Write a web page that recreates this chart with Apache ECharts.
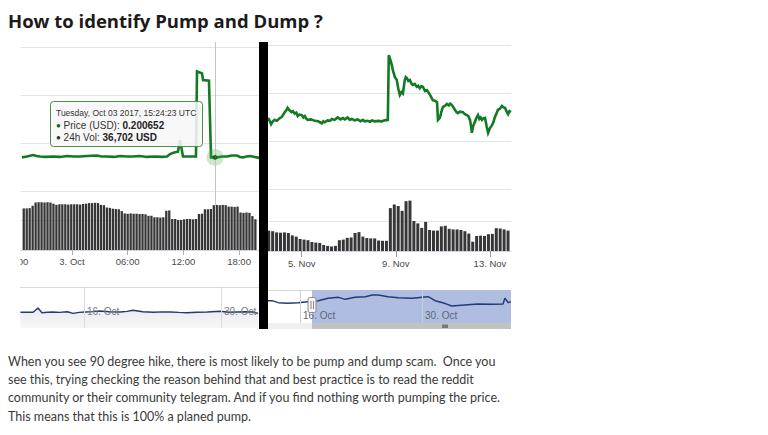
<!DOCTYPE html>
<html><head><meta charset="utf-8">
<script src="https://cdn.jsdelivr.net/npm/echarts@6/dist/echarts.min.js"></script>
<style>html,body{margin:0;padding:0;background:#fff}#c{width:768px;height:435px}</style>
</head><body><div id="c"></div>
<script>
// ---------- DATA ----------
// Left panel: hours from 3 Oct 2017 00:00 UTC; price in relative units (grid steps)
const leftPriceHours  = [-5.39,-4.85,-4.2,-3.8,-3.45,-2.8,-2.05,-1.3,-0.54,0.2,0.86,1.6,2.69,3.2,3.77,4.5,5.17,5.9,6.57,7.3,8.08,9.0,9.7,10.24,
  10.56,11.0,11.42,11.64,11.96,12.6,13.36,13.47,14.01,14.12,14.76,14.98,15.41,15.63,16.2,16.7,17.2,17.78,18.1,18.43,18.8,19.18,19.7,20.15];
const leftPriceValues = [0.70,0.72,0.75,0.73,0.72,0.71,0.72,0.71,0.73,0.72,0.72,0.73,0.74,0.72,0.72,0.71,0.73,0.72,0.72,0.73,0.71,0.72,0.71,0.72,
  0.77,0.80,0.82,1.06,0.72,0.72,0.72,2.49,2.45,2.31,2.30,0.70,0.70,0.70,0.72,0.72,0.74,0.74,0.71,0.70,0.72,0.73,0.71,0.69];
const leftVolStartHour = -5.2;
const leftVolStepHour = 0.32;
const leftVolumes = [1.41,1.41,1.42,1.50,1.61,1.62,1.62,1.61,1.62,1.61,1.57,1.53,1.55,1.55,1.55,1.54,1.55,1.55,1.55,1.54,
  1.56,1.57,1.59,1.59,1.60,1.59,1.53,1.52,1.44,1.43,1.40,1.39,1.38,1.32,1.24,1.23,1.24,1.23,1.23,1.22,
  1.22,1.21,1.16,1.16,1.11,1.11,1.10,1.11,1.33,1.34,1.05,1.05,1.02,1.02,1.04,1.05,1.05,1.04,1.05,1.22,
  1.23,1.38,1.38,1.39,1.52,1.53,1.52,1.53,1.52,1.47,1.47,1.46,1.47,1.27,1.26,1.27,1.26,1.15,1.04];
const leftTickHours = [-6, 0, 6, 12, 18];

// Right panel: day of November 2017
const rightPriceDays = [3.57,3.64,3.70,3.76,3.85,3.95,4.05,4.15,4.22,4.28,4.36,4.40,4.48,4.57,4.63,4.70,4.77,4.83,4.90,5.0,
  5.07,5.13,5.20,5.26,5.40,5.55,5.70,5.85,5.92,5.98,6.10,6.20,6.28,6.40,6.53,6.65,6.75,6.83,6.95,7.05,
  7.13,7.25,7.38,7.50,7.60,7.68,7.80,7.90,7.98,8.10,8.25,8.40,8.53,8.66,
  8.70,8.76,8.83,8.87,8.92,8.96,9.04,9.10,9.17,9.24,9.30,9.38,9.42,9.47,9.53,9.60,9.66,9.72,9.80,9.89,9.95,
  10.02,10.08,10.15,10.24,10.32,10.40,10.45,10.52,10.57,10.66,10.75,10.79,10.87,10.94,11.0,11.08,11.17,11.25,11.31,11.38,
  11.45,11.51,11.58,11.64,11.72,11.85,11.93,12.02,12.08,12.15,12.20,12.23,12.28,12.36,12.42,12.49,12.55,12.60,12.66,12.72,
  12.79,12.86,12.92,13.00,13.09,13.15,13.21,13.28,13.34,13.42,13.51,13.58,13.64,13.70,13.77,13.83,13.89];
const rightPriceValues = [1.48,1.42,1.35,1.40,1.44,1.42,1.47,1.50,1.55,1.60,1.65,1.69,1.64,1.60,1.62,1.57,1.59,1.52,1.55,1.54,
  1.49,1.52,1.46,1.44,1.45,1.42,1.41,1.37,1.41,1.39,1.43,1.42,1.46,1.44,1.49,1.45,1.48,1.45,1.49,1.44,
  1.46,1.43,1.45,1.41,1.44,1.41,1.42,1.40,1.43,1.41,1.42,1.41,1.43,1.44,
  2.79,2.70,2.58,2.48,2.40,2.33,2.27,2.10,1.96,2.02,1.99,2.27,2.33,2.31,2.25,2.27,2.20,2.17,2.19,2.13,2.15,
  2.10,2.14,2.13,2.04,2.06,2.00,1.96,1.90,1.85,1.84,1.81,1.44,1.48,1.62,1.71,1.73,1.77,1.74,1.78,1.75,
  1.70,1.65,1.60,1.58,1.61,1.60,1.56,1.54,1.52,1.44,1.30,1.17,1.30,1.40,1.48,1.54,1.46,1.49,1.44,1.47,
  1.48,1.30,1.17,1.27,1.33,1.40,1.50,1.58,1.65,1.67,1.73,1.70,1.69,1.62,1.56,1.62,1.60];
const rightVolStartDay = 3.6;
const rightVolStepDay = 1 / 6;
const rightVolumes = [0.68,0.66,0.62,0.61,0.62,0.60,0.52,0.48,0.40,0.38,0.36,0.30,0.28,0.27,0.20,0.17,0.15,0.17,0.36,0.38,
  0.44,0.45,0.60,0.63,0.48,0.43,0.42,0.42,0.35,0.34,0.34,1.43,1.55,1.50,1.34,1.66,1.68,1.00,0.92,0.77,
  0.97,0.70,0.68,0.68,0.82,0.84,0.74,0.72,0.72,0.70,0.66,0.58,0.31,0.50,0.51,0.50,0.56,0.57,0.76,0.75,
  0.72,0.68];
const rightTickDays = [5, 9, 13];

// Navigators: day of October 2017 (32 = 1 Nov)
const leftNavDays   = [9.5,10.2,10.8,11.3,11.7,12.3,12.8,13.5,14.3,14.9,15.5,16.1,16.9,17.6,18.6,19.7,20.4,21.0,22.0,23.1,24.0,24.8,25.7,26.5,27.5,28.6,29.9,30.8,31.6,32.5,33.3,33.8];
const leftNavValues = [1.53,1.55,1.53,1.95,1.49,1.54,1.56,1.52,1.59,1.43,1.52,1.56,1.60,1.66,1.58,1.56,1.62,1.73,1.58,1.53,1.57,1.56,1.52,1.49,1.53,1.56,1.63,1.54,1.56,1.58,1.56,1.43];
const rightNavDays   = [12.33,12.8,13.5,14.6,15.8,16.9,18.1,19.2,20.4,21.2,22.3,23.5,24.3,25.0,26.1,27.3,28.9,30.0,30.7,31.5,32.6,33.4,34.9,36.4,38.0,39.3,39.5,39.9,40.2];
const rightNavValues = [2.23,2.23,2.03,1.97,2.03,2.13,2.23,2.47,2.57,2.37,2.57,2.63,2.80,2.80,2.63,2.53,2.47,2.57,2.63,2.23,1.97,1.70,1.80,1.90,1.87,1.90,2.47,2.03,2.13];
const navTickDays = [16, 30];
const navSelectionStartDay = 17.38;

// Hovered point (tooltip)
const hoverHour = 15.41;
const hoverValue = 0.70;
const tooltipDate = 'Tuesday, Oct 03 2017, 15:24:23 UTC';
const tooltipPrice = '0.200652';
const tooltipVol = '36,702 USD';

const titleText = 'How to identify Pump and Dump ?';
const paragraphLines = [
  'When you see 90 degree hike, there is most likely to be pump and dump scam.  Once you',
  'see this, trying checking the reason behind that and best practice is to read the reddit',
  'community or their community telegram. And if you find nothing worth pumping the price.',
  'This means that this is 100% a planed pump.'
];

// ---------- CHART ----------
const GREEN = '#127a22';
const GRID_LINE = '#e4e4e4';
const BAR = '#363636';
const AXIS_FONT = 'Liberation Sans, Arial, sans-serif';

function pairs(xs, ys) { return xs.map((x, i) => [x, ys[i]]); }
function stepped(start, step, ys) { return ys.map((y, i) => [start + i * step, y]); }
function pad(n) { return (n < 10 ? '0' : '') + n; }
function hourLabel(h) {
  const hh = ((h % 24) + 24) % 24;
  if (hh === 0) return (3 + Math.floor(h / 24)) + '. Oct';
  return pad(hh) + ':00';
}
function dayLabel(d) { return d > 31 ? (d - 31) + '. Nov' : d + '. Oct'; }

const chart = echarts.init(document.getElementById('c'), null, { renderer: 'svg' });

function gridBox(left, top, width, height) {
  return { left, top, width, height, containLabel: false, outerBoundsMode: 'none', show: false };
}

const hiddenY = (min, max, interval, showMin, showMax, color) => ({
  type: 'value', min, max, interval,
  axisLine: { show: false }, axisTick: { show: false }, axisLabel: { show: false },
  splitLine: { show: true, showMinLine: showMin, showMaxLine: showMax, lineStyle: { color: color || GRID_LINE, width: 1 } }
});
const hiddenX = (min, max) => ({
  type: 'value', min, max, show: false, splitLine: { show: false }
});

const leftMinH = -6, leftMaxH = 20.15;
const rightMinD = 3.568, rightMaxD = 13.893;

const option = {
  animation: false,
  backgroundColor: '#ffffff',
  grid: [
    gridBox(16.32, 42, 242.68, 149),   // 0 left price
    gridBox(16.32, 191, 242.68, 59),   // 1 left volume
    gridBox(268, 42, 243, 147),        // 2 right price
    gridBox(268, 191, 243, 60),        // 3 right volume
    gridBox(20, 287, 239, 41),         // 4 left navigator
    gridBox(268, 290, 243, 33)         // 5 right navigator
  ],
  xAxis: [
    Object.assign(hiddenX(leftMinH, leftMaxH), { gridIndex: 0 }),
    {
      gridIndex: 1, type: 'value', min: leftMinH, max: leftMaxH,
      axisLine: { show: true, lineStyle: { color: '#ccd6eb' } },
      axisTick: { show: true, length: 5, lineStyle: { color: '#b0b0b0' }, customValues: leftTickHours },
      axisLabel: { show: true, customValues: leftTickHours, formatter: hourLabel, color: '#4a4a4a', fontSize: 9.5, fontFamily: AXIS_FONT, margin: 6 },
      splitLine: { show: false }
    },
    Object.assign(hiddenX(rightMinD, rightMaxD), { gridIndex: 2 }),
    {
      gridIndex: 3, type: 'value', min: rightMinD, max: rightMaxD,
      axisLine: { show: true, lineStyle: { color: '#ccd6eb' } },
      axisTick: { show: true, length: 6, lineStyle: { color: '#999' }, customValues: rightTickDays },
      axisLabel: { show: true, customValues: rightTickDays, formatter: v => v + '. Nov', color: '#4a4a4a', fontSize: 9.5, fontFamily: AXIS_FONT, margin: 7 },
      splitLine: { show: false }
    },
    {
      gridIndex: 4, type: 'value', min: 9.46, max: 33.883, z: 10,
      axisLine: { show: false },
      axisTick: { show: false, customValues: navTickDays },
      axisLabel: { show: true, inside: true, customValues: navTickDays, formatter: dayLabel, align: 'left', padding: [0, 0, 0, 3], color: '#7a7a7a', fontSize: 10, fontFamily: AXIS_FONT, margin: 12 },
      splitLine: { show: true, lineStyle: { color: '#dcdcdc' } }
    },
    {
      gridIndex: 5, type: 'value', min: 12.328, max: 40.21, z: 10,
      axisLine: { show: false },
      axisTick: { show: false, customValues: navTickDays },
      axisLabel: { show: true, inside: true, customValues: navTickDays, formatter: dayLabel, align: 'left', padding: [0, 0, 0, 3], color: '#5f6578', fontSize: 10, fontFamily: AXIS_FONT, margin: 3 },
      splitLine: { show: true, lineStyle: { color: '#c9cfdd' } }
    }
  ],
  yAxis: [
    Object.assign(hiddenY(0, 3.104, 1, true, false), { gridIndex: 0 }),
    Object.assign(hiddenY(0, 2, 1, false, false), { gridIndex: 1 }),
    Object.assign(hiddenY(0, 3.0625, 1, true, false), { gridIndex: 2 }),
    Object.assign(hiddenY(0, 2, 1, false, false), { gridIndex: 3 }),
    Object.assign(hiddenY(0, 4, 4, false, true, '#d8d8d8'), { gridIndex: 4 }),
    Object.assign(hiddenY(0, 3.3, 3.3, false, true, '#d8d8d8'), { gridIndex: 5 })
  ],
  series: [
    { // crosshair in volume grid (behind bars)
      type: 'line', xAxisIndex: 1, yAxisIndex: 1, data: [], z: 1, silent: true,
      markLine: { symbol: 'none', silent: true, label: { show: false }, lineStyle: { color: '#c4c4c4', width: 1, type: 'solid' }, data: [{ xAxis: hoverHour }] }
    },
    {
      name: 'Left volume', type: 'bar', xAxisIndex: 1, yAxisIndex: 1, z: 2,
      data: stepped(leftVolStartHour, leftVolStepHour, leftVolumes),
      barWidth: 2.3, itemStyle: { color: BAR }
    },
    {
      name: 'Left price', type: 'line', xAxisIndex: 0, yAxisIndex: 0, z: 3, smooth: false,
      data: pairs(leftPriceHours, leftPriceValues), showSymbol: false,
      lineStyle: { color: GREEN, width: 2.6, join: 'miter' },
      markLine: { symbol: 'none', silent: true, label: { show: false }, lineStyle: { color: '#c4c4c4', width: 1, type: 'solid' }, data: [{ xAxis: hoverHour }] }
    },
    {
      name: 'Hover halo', type: 'scatter', xAxisIndex: 0, yAxisIndex: 0, z: 4,
      data: [[hoverHour, hoverValue]], symbolSize: 17, itemStyle: { color: 'rgba(80,170,80,0.35)' }
    },
    {
      name: 'Hover point', type: 'scatter', xAxisIndex: 0, yAxisIndex: 0, z: 5,
      data: [[hoverHour, hoverValue]], symbolSize: 5, itemStyle: { color: '#0c5a18' }
    },
    {
      name: 'Right volume', type: 'bar', xAxisIndex: 3, yAxisIndex: 3, z: 2,
      data: stepped(rightVolStartDay, rightVolStepDay, rightVolumes),
      barWidth: 3, itemStyle: { color: BAR }
    },
    {
      name: 'Right price', type: 'line', xAxisIndex: 2, yAxisIndex: 2, z: 3, smooth: false,
      data: pairs(rightPriceDays, rightPriceValues), showSymbol: false,
      lineStyle: { color: GREEN, width: 2.6, join: 'miter' }
    },
    {
      name: 'Left navigator', type: 'line', xAxisIndex: 4, yAxisIndex: 4, z: 3, smooth: false,
      data: pairs(leftNavDays, leftNavValues), showSymbol: false,
      lineStyle: { color: '#223a78', width: 1.4 },
      areaStyle: { color: new echarts.graphic.LinearGradient(0, 0, 0, 1, [{ offset: 0, color: '#e2e3e8' }, { offset: 1, color: '#f3f3f3' }]) }
    },
    { // selected range mask
      type: 'line', xAxisIndex: 5, yAxisIndex: 5, data: [], z: 1, silent: true,
      markArea: { silent: true, itemStyle: { color: '#aebde0' }, data: [[{ xAxis: navSelectionStartDay }, { xAxis: 'max' }]] }
    },
    {
      name: 'Right navigator', type: 'line', xAxisIndex: 5, yAxisIndex: 5, z: 3, smooth: false,
      data: pairs(rightNavDays, rightNavValues), showSymbol: false,
      lineStyle: { color: '#223a78', width: 1.4 }
    }
  ]
};
chart.setOption(option);

// ---------- decorations (page text, crop bar, tooltip, navigator handle) ----------
const selX = chart.convertToPixel({ xAxisIndex: 5 }, navSelectionStartDay);
const navRight = chart.convertToPixel({ xAxisIndex: 5 }, 40.21);

const graphics = [
  { type: 'text', z: 200, style: { x: 8, y: 20, text: titleText, fill: '#1b1b1b', font: 'bold 18.5px "Open Sans", Lato, sans-serif', verticalAlign: 'middle' } },
  // cropped left edge of the screenshot
  { type: 'rect', z: 150, shape: { x: 0, y: 40, width: 20.5, height: 232 }, style: { fill: '#ffffff' } },
  // black separator between the two screenshots
  { type: 'rect', z: 160, shape: { x: 259, y: 42, width: 9, height: 287 }, style: { fill: '#000000' } },
  // tooltip
  { type: 'rect', z: 170, shape: { x: 50.5, y: 101.5, width: 152, height: 45, r: 3 }, style: { fill: 'rgba(247,247,247,0.88)', stroke: '#4b8f4b', lineWidth: 1 } },
  { type: 'text', z: 171, style: { x: 56, y: 113, text: tooltipDate, fill: '#333', font: '8.5px "Liberation Sans", Arial, sans-serif', verticalAlign: 'middle' } },
  { type: 'text', z: 171, style: { x: 56, y: 125, text: '{d|●} Price (USD): {b|' + tooltipPrice + '}', fill: '#333', font: '10px "Liberation Sans", Arial, sans-serif', verticalAlign: 'middle',
      rich: { d: { fill: '#1d5f1d', fontSize: 8 }, b: { fontWeight: 'bold', fontSize: 10, fill: '#222' } } } },
  { type: 'text', z: 171, style: { x: 56, y: 137, text: '{d|●} 24h Vol: {b|' + tooltipVol + '}', fill: '#333', font: '10px "Liberation Sans", Arial, sans-serif', verticalAlign: 'middle',
      rich: { d: { fill: '#333', fontSize: 8 }, b: { fontWeight: 'bold', fontSize: 10, fill: '#222' } } } },
  // scrollbar under right navigator
  { type: 'rect', z: 140, shape: { x: 268, y: 323, width: 243, height: 6 }, style: { fill: '#efefef' } },
  { type: 'rect', z: 141, shape: { x: selX, y: 323, width: navRight - selX, height: 6 }, style: { fill: '#c2c2c2' } },
  { type: 'line', z: 142, shape: { x1: selX + 131, y1: 324.5, x2: selX + 131, y2: 328 }, style: { stroke: '#333', lineWidth: 1 } },
  { type: 'line', z: 142, shape: { x1: selX + 133, y1: 324.5, x2: selX + 133, y2: 328 }, style: { stroke: '#333', lineWidth: 1 } },
  { type: 'line', z: 142, shape: { x1: selX + 135, y1: 324.5, x2: selX + 135, y2: 328 }, style: { stroke: '#333', lineWidth: 1 } },
  // navigator handle
  { type: 'rect', z: 143, shape: { x: selX - 4, y: 297.5, width: 8, height: 15, r: 1.5 }, style: { fill: '#f4f4f4', stroke: '#8a8a8a', lineWidth: 1 } },
  { type: 'line', z: 144, shape: { x1: selX - 1, y1: 301, x2: selX - 1, y2: 309 }, style: { stroke: '#8a8a8a', lineWidth: 1 } },
  { type: 'line', z: 144, shape: { x1: selX + 1.5, y1: 301, x2: selX + 1.5, y2: 309 }, style: { stroke: '#8a8a8a', lineWidth: 1 } }
];
const paraY = [361.5, 379.5, 397.5, 416];
paragraphLines.forEach((t, i) => graphics.push({
  type: 'text', z: 200, style: { x: 8, y: paraY[i], text: t, fill: '#3a3a3a', font: '12.5px Lato, "Open Sans", sans-serif', verticalAlign: 'middle' }
}));
chart.setOption({ graphic: graphics });
</script>
</body></html>
